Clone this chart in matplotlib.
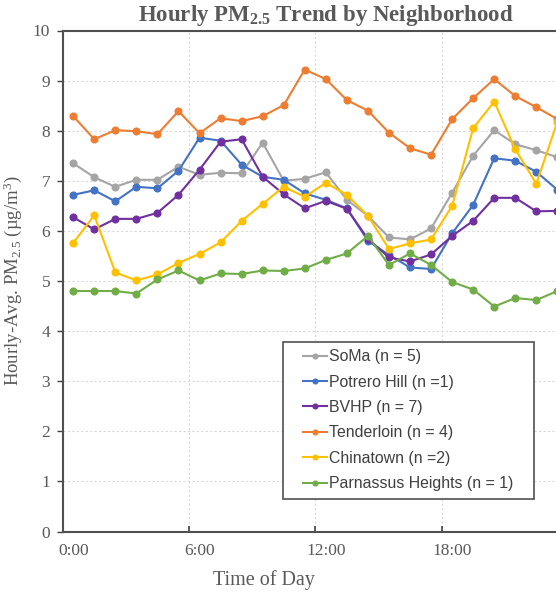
import numpy as np
import matplotlib
matplotlib.use("Agg")
import matplotlib.pyplot as plt
from matplotlib.lines import Line2D
from matplotlib.legend_handler import HandlerLine2D

plt.rcParams["mathtext.fontset"] = "custom"
plt.rcParams["mathtext.rm"] = "Liberation Serif"
plt.rcParams["mathtext.it"] = "Liberation Serif:italic"
plt.rcParams["mathtext.bf"] = "Liberation Serif:bold"

# hourly averages, one value per hour 0..23
hours = np.arange(24)
soma = [7.35, 7.07, 6.88, 7.02, 7.02, 7.28, 7.12, 7.16, 7.15, 7.76, 7.00, 7.04,
        7.17, 6.62, 6.30, 5.87, 5.83, 6.05, 6.76, 7.50, 8.01, 7.73, 7.61, 7.47]
potrero = [6.72, 6.81, 6.59, 6.88, 6.85, 7.20, 7.86, 7.80, 7.32, 7.08, 7.02, 6.75,
           6.62, 6.45, 5.80, 5.52, 5.27, 5.24, 5.95, 6.52, 7.45, 7.40, 7.18, 6.82]
bvhp = [6.27, 6.03, 6.24, 6.24, 6.36, 6.72, 7.22, 7.78, 7.83, 7.08, 6.73, 6.45,
        6.60, 6.44, 5.84, 5.47, 5.39, 5.53, 5.90, 6.20, 6.66, 6.66, 6.39, 6.40]
tenderloin = [8.29, 7.83, 8.01, 7.99, 7.93, 8.39, 7.95, 8.25, 8.19, 8.29, 8.51, 9.22,
              9.03, 8.61, 8.40, 7.96, 7.65, 7.52, 8.23, 8.65, 9.03, 8.69, 8.47, 8.23]
chinatown = [5.76, 6.31, 5.17, 5.01, 5.13, 5.36, 5.54, 5.77, 6.20, 6.54, 6.88, 6.68,
             6.96, 6.72, 6.30, 5.64, 5.75, 5.83, 6.50, 8.05, 8.58, 7.63, 6.94, 8.18]
parnassus = [4.80, 4.80, 4.80, 4.75, 5.03, 5.21, 5.01, 5.15, 5.14, 5.21, 5.20, 5.25,
             5.42, 5.55, 5.90, 5.32, 5.55, 5.32, 4.98, 4.83, 4.49, 4.66, 4.62, 4.80]

labels = ["SoMa (n = 5)", "Potrero Hill (n =1)", "BVHP (n = 7)",
          "Tenderloin (n = 4)", "Chinatown (n =2)", "Parnassus Heights (n = 1)"]
series = [soma, potrero, bvhp, tenderloin, chinatown, parnassus]
colors = ["#A5A5A5", "#4472C4", "#7030A0", "#ED7D31", "#FFC000", "#70AD47"]

tick_hours = [0, 6, 12, 18]
tick_labels = ["0:00", "6:00", "12:00", "18:00"]

TXT = "#595959"
SERIF = "Liberation Serif"

W, H = 556, 594
fig = plt.figure(figsize=(W / 100, H / 100), dpi=100)
fig.patch.set_facecolor("white")
# plot area runs past the right edge of the picture (original is cropped)
ax = fig.add_axes([62.7 / W, 62.5 / H, 505.2 / W, 501 / H])

for vals, lbl, c in zip(series, labels, colors):
    ax.plot(hours + 0.5, vals, color=c, lw=1.5, marker="o", ms=4.8,
            label=lbl, zorder=3)

ax.set_xlim(0, 24)
ax.set_ylim(0, 10)
ax.set_yticks(range(0, 11))
ax.set_xticks(tick_hours + [24])
ax.set_xticklabels([])
ax.set_xticks([h + 0.5 for h in tick_hours], minor=True)
ax.set_xticklabels(tick_labels, minor=True)

ax.tick_params(axis="x", which="major", direction="in", length=4, width=1.2,
               color="#404040")
ax.tick_params(axis="x", which="minor", length=0, pad=8)
ax.tick_params(axis="y", direction="out", length=4, width=1.0, color="#404040", pad=5)
for lab in ax.get_xticklabels(minor=True) + ax.get_yticklabels():
    lab.set_fontfamily(SERIF)
    lab.set_fontsize(12.5)
    lab.set_color(TXT)

ax.grid(True, which="major", color="#D9D9D9", lw=0.8, ls=(0, (2, 2)), zorder=0)
for side in ["left", "bottom", "top"]:
    ax.spines[side].set_color("#505050")
    ax.spines[side].set_linewidth(1.5)
ax.spines["right"].set_visible(False)

ax.set_ylabel(r"Hourly-Avg. PM$_{2.5}$ (µg/m$^{3}$)", fontfamily=SERIF,
              fontsize=13.5, color=TXT, labelpad=6)
fig.text(264 / W, 1 - 580 / H, "Time of Day", ha="center", va="center",
         fontfamily=SERIF, fontsize=14.5, color=TXT)
fig.text(326 / W, 1 - 15 / H, r"Hourly PM$_{\mathbf{2.5}}$ Trend by Neighborhood",
         ha="center", va="center", fontfamily=SERIF, fontweight="bold",
         fontsize=16.5, color=TXT)

# legend box: x 283..534, y 342..500 px
fs = 11.4
leg = ax.legend(loc="upper left",
                bbox_to_anchor=(283 / W, 1 - 500 / H, 251 / W, 158 / H),
                bbox_transform=fig.transFigure, borderaxespad=0, mode="expand",
                prop={"family": "Liberation Sans", "size": fs},
                fancybox=False, framealpha=1, edgecolor="#505050",
                handlelength=2.35, handletextpad=0.08, labelspacing=0.66,
                borderpad=0.45, markerscale=0.7,
                handler_map={Line2D: HandlerLine2D(xpad=0.82)})
leg.get_frame().set_linewidth(1.2)
for t in leg.get_texts():
    t.set_color("#404040")

fig.savefig("out.png", dpi=100, facecolor="white")
